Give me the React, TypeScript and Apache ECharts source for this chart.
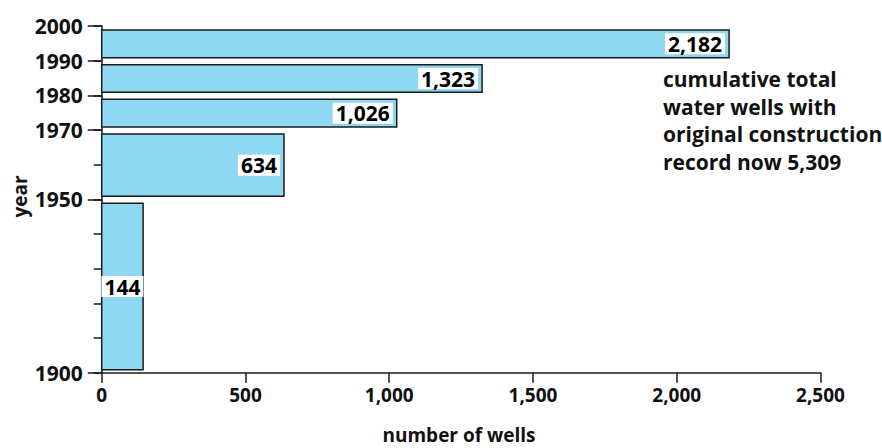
import React, { useEffect, useRef } from "react";
import * as echarts from "echarts";

const startYears = [1990, 1980, 1970, 1950, 1900];
const endYears = [2000, 1990, 1980, 1970, 1950];
const wells = [2182, 1323, 1026, 634, 144];
const yLabelYears = [1900, 1950, 1970, 1980, 1990, 2000];
const annotationLines = [
  "cumulative total",
  "water wells with",
  "original construction",
  "record now 5,309",
];
const xAxisName = "number of wells";
const yAxisName = "year";

const FONT = '"Open Sans", "Noto Sans", sans-serif';
const fmt = (v: number) => v.toLocaleString("en-US");

export default function App() {
  const ref = useRef<HTMLDivElement>(null);
  useEffect(() => {
    document.body.style.margin = "0";
    const chart = echarts.init(ref.current!, null, { renderer: "svg" });
    const data = startYears.map((s, i) => [s, endYears[i], wells[i]]);
    chart.setOption({
      animation: false,
      backgroundColor: "#fff",
      grid: { left: 101.7, top: 26, right: 61.5, bottom: 75.3 },
      xAxis: {
        type: "value",
        min: 0,
        max: 2500,
        interval: 500,
        axisLine: { show: true, lineStyle: { color: "#1a1a1a", width: 1.5 } },
        axisTick: { show: true, length: 10, lineStyle: { color: "#1a1a1a", width: 1.5 } },
        axisLabel: {
          formatter: (v: number) => fmt(v),
          color: "#111",
          fontFamily: FONT,
          fontWeight: "bold",
          fontSize: 19,
          margin: 13,
        },
        splitLine: { show: false },
      },
      yAxis: [
        {
          type: "value",
          min: 1900,
          max: 2000,
          interval: 10,
          axisLine: { show: true, lineStyle: { color: "#1a1a1a", width: 1.5 } },
          axisTick: { show: true, length: 8, lineStyle: { color: "#1a1a1a", width: 1.5 } },
          axisLabel: { show: false },
          splitLine: { show: false },
        },
        {
          type: "value",
          position: "left",
          min: 1900,
          max: 2000,
          interval: 10,
          axisLine: { show: false },
          axisTick: {
            show: true,
            length: 14,
            customValues: yLabelYears,
            lineStyle: { color: "#1a1a1a", width: 1.5 },
          },
          axisLabel: {
            customValues: yLabelYears,
            formatter: (v: number) => String(v),
            color: "#111",
            fontFamily: FONT,
            fontWeight: "bold",
            fontSize: 21,
            margin: 19,
          },
          splitLine: { show: false },
        },
      ],
      graphic: [
        {
          type: "text",
          left: 663,
          top: 65,
          style: {
            text: annotationLines.join("\n"),
            fill: "#111",
            font: `bold 21px ${FONT}`,
            lineHeight: 27.7,
          },
        },
        {
          type: "text",
          x: 20,
          y: 196.5,
          rotation: Math.PI / 2,
          style: {
            text: yAxisName,
            fill: "#111",
            font: `bold 19px ${FONT}`,
            align: "center",
            verticalAlign: "middle",
          },
        },
        {
          type: "text",
          x: 459,
          y: 435,
          style: {
            text: xAxisName,
            fill: "#111",
            font: `bold 19px ${FONT}`,
            align: "center",
            verticalAlign: "middle",
          },
        },
      ],
      series: [
        {
          type: "custom",
          xAxisIndex: 0,
          yAxisIndex: 0,
          encode: { x: 2, y: [0, 1] },
          data,
          renderItem: (params: any, api: any) => {
            const y0 = api.value(0);
            const y1 = api.value(1);
            const v = api.value(2);
            const pTop = api.coord([v, y1]);
            const pBot = api.coord([0, y0]);
            const left = pBot[0];
            const right = pTop[0];
            const top = pTop[1] + 4;
            const bottom = pBot[1] - 3;
            const narrow = right - left < 70;
            return {
              type: "group",
              children: [
                {
                  type: "rect",
                  shape: { x: left, y: top, width: right - left, height: bottom - top },
                  style: { fill: "#8fd8f1", stroke: "#1a1a1a", lineWidth: 1.5 },
                },
                {
                  type: "text",
                  style: {
                    text: fmt(v),
                    x: narrow ? (left + right) / 2 : right - 4,
                    y: (top + bottom) / 2,
                    align: narrow ? "center" : "right",
                    verticalAlign: "middle",
                    fill: "#000",
                    font: `bold 21px ${FONT}`,
                    backgroundColor: "#fff",
                    padding: [0, 3, 0, 3],
                  },
                },
              ],
            };
          },
        },
      ],
    });
    return () => chart.dispose();
  }, []);
  return <div ref={ref} style={{ width: 882, height: 448 }} />;
}
